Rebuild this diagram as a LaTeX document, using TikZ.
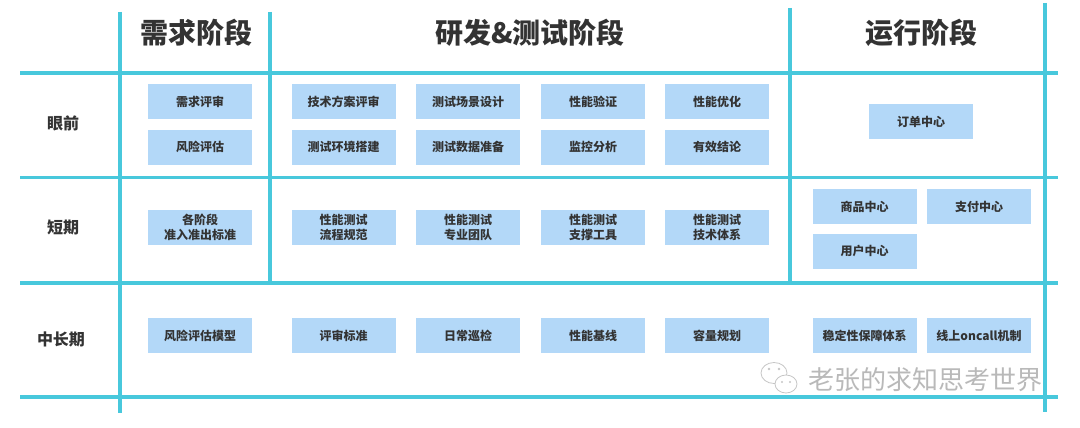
\documentclass[tikz,border=0pt]{standalone}
\usepackage{fontspec}
\setmainfont{Noto Sans CJK SC}
\definecolor{gridcyan}{HTML}{48C8DC}
\definecolor{boxblue}{HTML}{B3D8F8}
\definecolor{inktext}{HTML}{333333}
\begin{document}
\begin{tikzpicture}
[x=1pt,y=-1pt,
 gridline/.style={draw=gridcyan,line width=3.5pt},
 taskbox/.style={fill=boxblue,minimum width=104pt,minimum height=35pt,inner sep=0pt,
   align=center,text=inktext,font=\bfseries\fontsize{12pt}{14.5pt}\selectfont},
 stagetitle/.style={text=inktext,font=\bfseries\fontsize{28pt}{30pt}\selectfont},
 rowlabel/.style={text=inktext,font=\bfseries\fontsize{16pt}{18pt}\selectfont}]
\useasboundingbox [fill=white] (0,0) rectangle (1080,428);
% grid
\draw [gridline] (20,73) -- (1058,73);
\draw [gridline] (20,177.5) -- (1058,177.5);
\draw [gridline] (20,283) -- (1058,283);
\draw [gridline] (20,397) -- (1058,397);
\draw [gridline] (120,12) -- (120,413);
\draw [gridline] (270,12) -- (270,283);
\draw [gridline] (790,8) -- (790,285);
\draw [gridline] (1045,3) -- (1045,412);
% stages
\node [stagetitle] (req) at (196,33) {需求阶段};
\node [stagetitle] (dev) at (530,33) {研发\&测试阶段};
\node [stagetitle] (ops) at (921,33) {运行阶段};
% rows
\node [rowlabel] (now) at (63,123) {眼前};
\node [rowlabel] (short) at (63,227) {短期};
\node [rowlabel] (long) at (61,339) {中长期};
% requirement stage
\node [taskbox] (req1) at (200,101.5) {需求评审};
\node [taskbox] (req2) at (200,147) {风险评估};
\node [taskbox] (req3) at (200,227.5) {各阶段\\准入准出标准};
\node [taskbox] (req4) at (200,335.5) {风险评估模型};
% dev & test stage
\node [taskbox] (dev1) at (343.5,101.5) {技术方案评审};
\node [taskbox] (dev2) at (468,101.5) {测试场景设计};
\node [taskbox] (dev3) at (593,101.5) {性能验证};
\node [taskbox] (dev4) at (717,101.5) {性能优化};
\node [taskbox] (dev5) at (343.5,147) {测试环境搭建};
\node [taskbox] (dev6) at (468,147) {测试数据准备};
\node [taskbox] (dev7) at (593,147) {监控分析};
\node [taskbox] (dev8) at (717,147) {有效结论};
\node [taskbox] (dev9) at (343.5,227.5) {性能测试\\流程规范};
\node [taskbox] (dev10) at (468,227.5) {性能测试\\专业团队};
\node [taskbox] (dev11) at (593,227.5) {性能测试\\支撑工具};
\node [taskbox] (dev12) at (717,227.5) {性能测试\\技术体系};
\node [taskbox] (dev13) at (343.5,335.5) {评审标准};
\node [taskbox] (dev14) at (468,335.5) {日常巡检};
\node [taskbox] (dev15) at (593,335.5) {性能基线};
\node [taskbox] (dev16) at (717,335.5) {容量规划};
% run stage
\node [taskbox] (ops1) at (921,121.5) {订单中心};
\node [taskbox] (ops2) at (864.5,206.5) {商品中心};
\node [taskbox] (ops3) at (979,206.5) {支付中心};
\node [taskbox] (ops4) at (864.5,251) {用户中心};
\node [taskbox] (ops5) at (864.5,335.5) {稳定性保障体系};
\node [taskbox] (ops6) at (979,335.5) {线上oncall机制};
% watermark
\draw [gray!45,line width=0.8pt,fill=white] (774,373) ellipse (13 and 10.5);
\fill [gray!45] (769,369) circle (1.4) (779,369) circle (1.4);
\draw [gray!45,line width=0.8pt,fill=white] (786,384) ellipse (11 and 9);
\fill [gray!45] (782,382) circle (1.2) (790,382) circle (1.2);
\node [anchor=east,text=gray!55,inner sep=0pt,font=\fontsize{26pt}{28pt}\selectfont] (mark) at (1043,380) {老张的求知思考世界};
\end{tikzpicture}
\end{document}
